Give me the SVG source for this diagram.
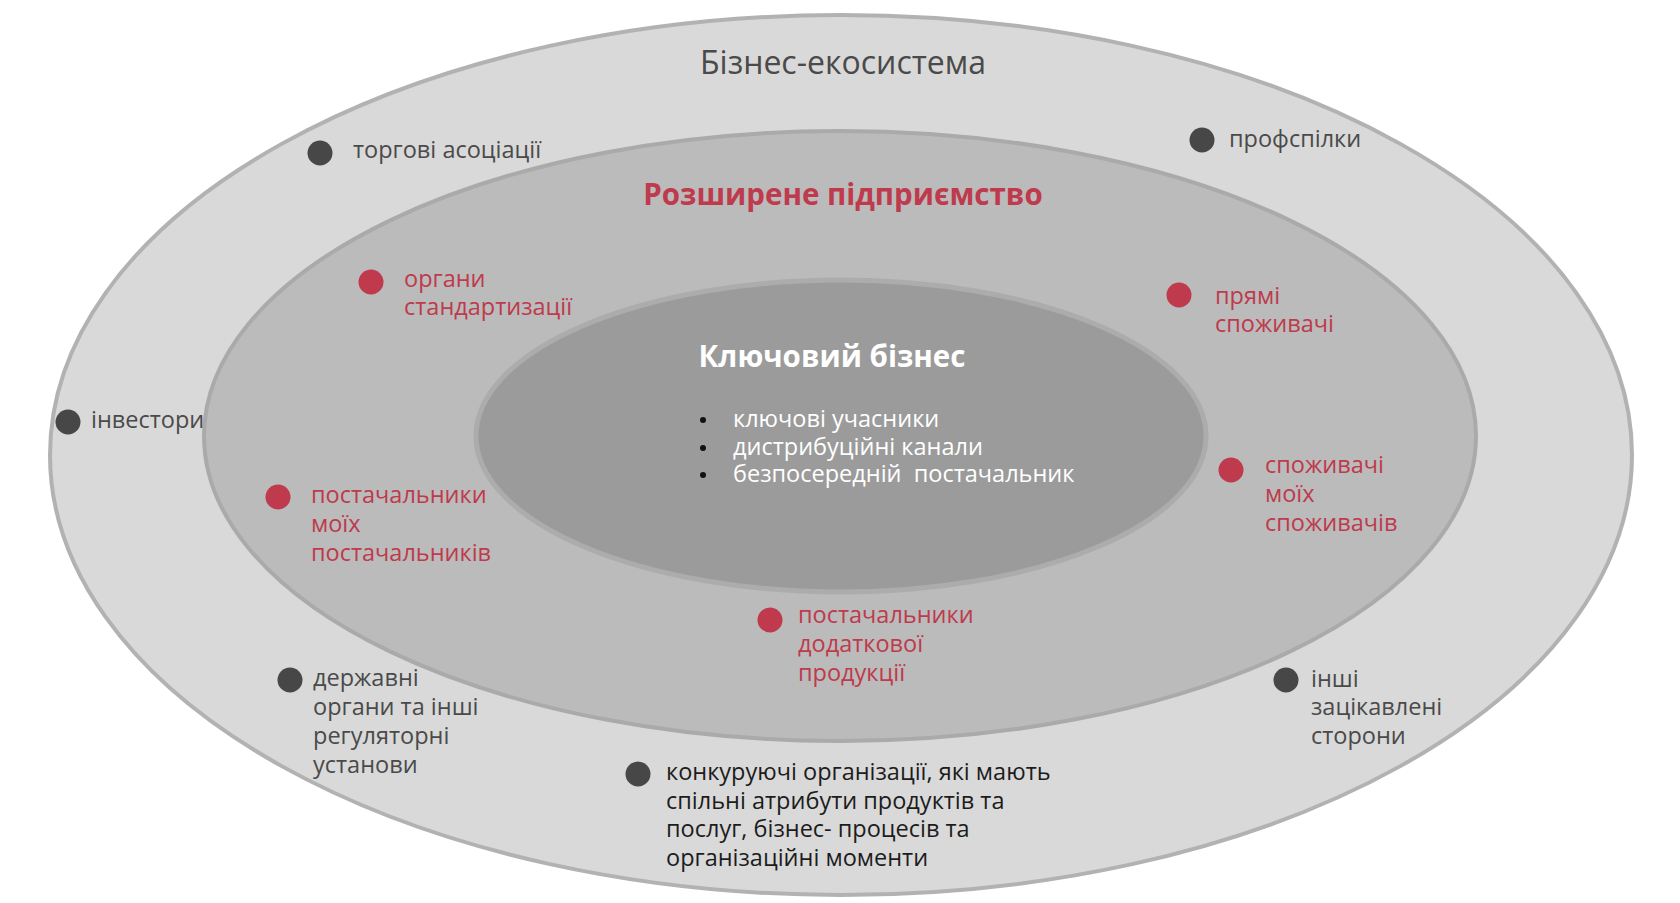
<svg xmlns="http://www.w3.org/2000/svg" width="1680" height="903" viewBox="0 0 1680 903">
<style>
  text { font-family: "Open Sans", "Noto Sans", "DejaVu Sans", sans-serif; font-size: 23.5px; }
  .gray { fill: #4a4a4a; }
  .dark { fill: #1c1c1c; }
  .red { fill: #be3a4c; }
  .white { fill: #ffffff; }
  .dotg { fill: #474747; }
  .dotr { fill: #be3a4c; }
  .title { font-size: 32px; }
  .bold { font-size: 29.5px; font-weight: bold; }
</style>
<rect x="0" y="0" width="1680" height="903" fill="#ffffff"/>
<g id="ecosystem">
  <ellipse cx="841" cy="455" rx="791" ry="440" fill="#d9d9d9" stroke="#b2b2b2" stroke-width="4"/>
  <text class="title gray" x="843" y="74" text-anchor="middle">Бізнес-екосистема</text>
</g>
<g id="extended-enterprise">
  <ellipse cx="840" cy="436" rx="636" ry="305" fill="#bbbbbb" stroke="#aaaaaa" stroke-width="4"/>
  <text class="bold red" x="843" y="205" text-anchor="middle">Розширене підприємство</text>
</g>
<g id="core-business">
  <ellipse cx="841" cy="436" rx="365" ry="156" fill="#9b9b9b" stroke="#acacac" stroke-width="5"/>
  <text class="bold white" x="832" y="367" text-anchor="middle">Ключовий бізнес</text>
  <circle cx="703" cy="420" r="3" fill="#111111"/>
  <circle cx="703" cy="448" r="3" fill="#111111"/>
  <circle cx="703" cy="475" r="3" fill="#111111"/>
  <text class="white" xml:space="preserve"><tspan x="733" y="427">ключові учасники</tspan><tspan x="733" y="455">дистрибуційні канали</tspan><tspan x="733" y="482">безпосередній  постачальник</tspan></text>
</g>
<g id="trade-associations">
  <circle class="dotg" cx="320" cy="153" r="12.5"/>
  <text class="gray" x="353" y="158">торгові асоціації</text>
</g>
<g id="trade-unions">
  <circle class="dotg" cx="1202" cy="140" r="12.5"/>
  <text class="gray" x="1229" y="147">профспілки</text>
</g>
<g id="standards-bodies">
  <circle class="dotr" cx="371" cy="282" r="12.5"/>
  <text class="red"><tspan x="404" y="287">органи</tspan><tspan x="404" y="315">стандартизації</tspan></text>
</g>
<g id="direct-customers">
  <circle class="dotr" cx="1179" cy="295" r="12.5"/>
  <text class="red"><tspan x="1215" y="304">прямі</tspan><tspan x="1215" y="332">споживачі</tspan></text>
</g>
<g id="investors">
  <circle class="dotg" cx="68" cy="422" r="12.5"/>
  <text class="gray" x="91" y="428">інвестори</text>
</g>
<g id="suppliers-of-suppliers">
  <circle class="dotr" cx="278" cy="497" r="12.5"/>
  <text class="red"><tspan x="311" y="503">постачальники</tspan><tspan x="311" y="532">моїх</tspan><tspan x="311" y="561">постачальників</tspan></text>
</g>
<g id="customers-of-customers">
  <circle class="dotr" cx="1231" cy="470" r="12.5"/>
  <text class="red"><tspan x="1265" y="473">споживачі</tspan><tspan x="1265" y="502">моїх</tspan><tspan x="1265" y="531">споживачів</tspan></text>
</g>
<g id="complementary-suppliers">
  <circle class="dotr" cx="770" cy="620" r="12.5"/>
  <text class="red"><tspan x="798" y="623">постачальники</tspan><tspan x="798" y="652">додаткової</tspan><tspan x="798" y="681">продукції</tspan></text>
</g>
<g id="government">
  <circle class="dotg" cx="290" cy="680" r="12.5"/>
  <text class="gray"><tspan x="313" y="686">державні</tspan><tspan x="313" y="715">органи та інші</tspan><tspan x="313" y="744">регуляторні</tspan><tspan x="313" y="773">установи</tspan></text>
</g>
<g id="other-stakeholders">
  <circle class="dotg" cx="1286" cy="680" r="12.5"/>
  <text class="gray"><tspan x="1311" y="687">інші</tspan><tspan x="1311" y="715">зацікавлені</tspan><tspan x="1311" y="744">сторони</tspan></text>
</g>
<g id="competitors">
  <circle class="dotg" cx="638" cy="774" r="12.5"/>
  <text class="dark"><tspan x="666" y="780">конкуруючі організації, які мають</tspan><tspan x="666" y="809">спільні атрибути продуктів та</tspan><tspan x="666" y="837">послуг, бізнес- процесів та</tspan><tspan x="666" y="866">організаційні моменти</tspan></text>
</g>
</svg>
